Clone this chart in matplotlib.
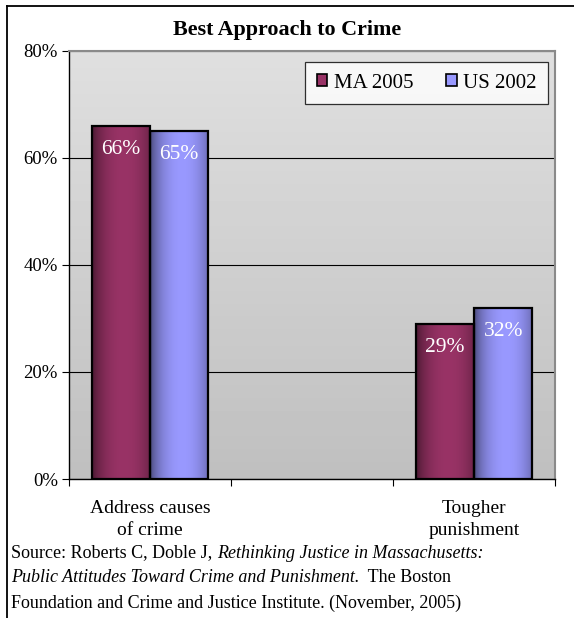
import numpy as np
import matplotlib

matplotlib.use("Agg")
import matplotlib.pyplot as plt
from matplotlib.lines import Line2D
from matplotlib.patches import Patch
from matplotlib.colors import to_rgb

categories = ["Address causes\nof crime", "", "Tougher\npunishment"]
ma_2005 = [66, np.nan, 29]
us_2002 = [65, np.nan, 32]
series_names = ["MA 2005", "US 2002"]
y_ticks = [0, 20, 40, 60, 80]
title = "Best Approach to Crime"

plt.rcParams["font.family"] = ["Liberation Serif", "DejaVu Serif"]

colors = ["#993366", "#9999FF"]


def shade(base, n=64):
    # dark edges, bright middle: cylinder-ish look of the old Excel bars
    t = np.linspace(0, 1, n)
    f = 1 - ((t - 0.55) / 0.55) ** 2
    f = 0.45 + 0.55 * np.clip(f, 0, 1) ** 0.7
    rgb = np.array(to_rgb(base))
    return (f[:, None] * rgb[None, :])[None, :, :]


fig = plt.figure(figsize=(5.74, 6.18), dpi=100)
ax = fig.add_axes([69 / 574, 1 - 479 / 618, 486 / 574, 428 / 618])

# plot area gradient
bg = np.linspace(0.75, 0.875, 100)[:, None] * np.ones((1, 2))
ax.imshow(bg, cmap="gray", vmin=0, vmax=1, extent=(0, 1, 0, 1), transform=ax.transAxes,
          aspect="auto", zorder=0, origin="lower")

x = np.arange(len(categories))
w = 0.36
for i, (vals, c) in enumerate(zip([ma_2005, us_2002], colors)):
    bars = ax.bar(x + (i - 0.5) * w, vals, w, facecolor="none", edgecolor="black",
                  linewidth=1.6, zorder=4)
    for rect, v in zip(bars, vals):
        if np.isnan(v):
            continue
        x0, y0 = rect.get_x(), rect.get_y()
        im = ax.imshow(shade(c), extent=(x0, x0 + rect.get_width(), y0, y0 + rect.get_height()),
                       aspect="auto", zorder=3, interpolation="bilinear")
        im.set_clip_path(rect)
        ax.annotate(f"{v:.0f}%", (rect.get_x() + rect.get_width() / 2, v), xytext=(0, -17),
                    textcoords="offset points", ha="center", va="center", color="white",
                    fontsize=15.5, zorder=5)

ax.set_xlim(-0.5, len(categories) - 0.5)
ax.set_ylim(0, 80)
ax.set_yticks(y_ticks)
ax.set_yticklabels([f"{t}%" for t in y_ticks], fontsize=13.5)
ax.yaxis.grid(True, color="black", linewidth=0.8, zorder=1)
ax.set_axisbelow(True)

ax.set_xticks(np.arange(len(categories) + 1) - 0.5)
ax.set_xticklabels([])
ax.set_xticks(x, minor=True)
ax.set_xticklabels(categories, minor=True, fontsize=14, linespacing=1.4)
ax.tick_params(axis="x", which="minor", length=0, pad=15)
ax.tick_params(axis="both", which="major", direction="out", length=5, width=0.8, color="black")
ax.tick_params(axis="y", pad=3)

for side in ["left", "bottom"]:
    ax.spines[side].set_color("black")
    ax.spines[side].set_linewidth(1.0)
for side in ["top", "right"]:
    ax.spines[side].set_color("#8a8a8a")
    ax.spines[side].set_linewidth(1.5)

handles = [Patch(facecolor=c, edgecolor="black", linewidth=1.2) for c in colors]
leg = ax.legend(handles, series_names, loc="upper right", bbox_to_anchor=(0.9856, 0.974),
                ncol=2, fontsize=15, frameon=True, fancybox=False, handlelength=0.5,
                handleheight=0.5, handletextpad=0.3, columnspacing=1.6, borderpad=0.55,
                borderaxespad=0)
leg.get_frame().set_edgecolor("black")
leg.get_frame().set_linewidth(0.9)
leg.set_zorder(6)

fig.text(287 / 574, 1 - 30 / 618, title, ha="center", va="center", fontsize=15.8,
         fontweight="bold")

# outer frame (top and left edges only show in the crop)
fig.add_artist(Line2D([7 / 574, 1.0], [1 - 6 / 618] * 2, color="black", linewidth=1.3))
fig.add_artist(Line2D([7 / 574] * 2, [0.0, 1 - 6 / 618], color="black", linewidth=1.3))

# source note, mixed upright / italic pieces chained one after another
src_lines = [
    [("Source: Roberts C, Doble J, ", "normal"), ("Rethinking Justice in Massachusetts:", "italic")],
    [("Public Attitudes Toward Crime and Punishment.", "italic"), ("  The Boston", "normal")],
    [("Foundation and Crime and Justice Institute. (November, 2005)", "normal")],
]
for k, pieces in enumerate(src_lines):
    last = None
    for txt, style in pieces:
        if last is None:
            last = fig.text(11 / 574, 1 - (553 + 25 * k) / 618, txt, ha="left", va="center",
                            fontsize=13, style=style)
        else:
            last = ax.annotate(txt, xy=(1, 0.5), xycoords=last, ha="left", va="center",
                               fontsize=13, style=style, annotation_clip=False)

fig.savefig("out.png", dpi=100)
